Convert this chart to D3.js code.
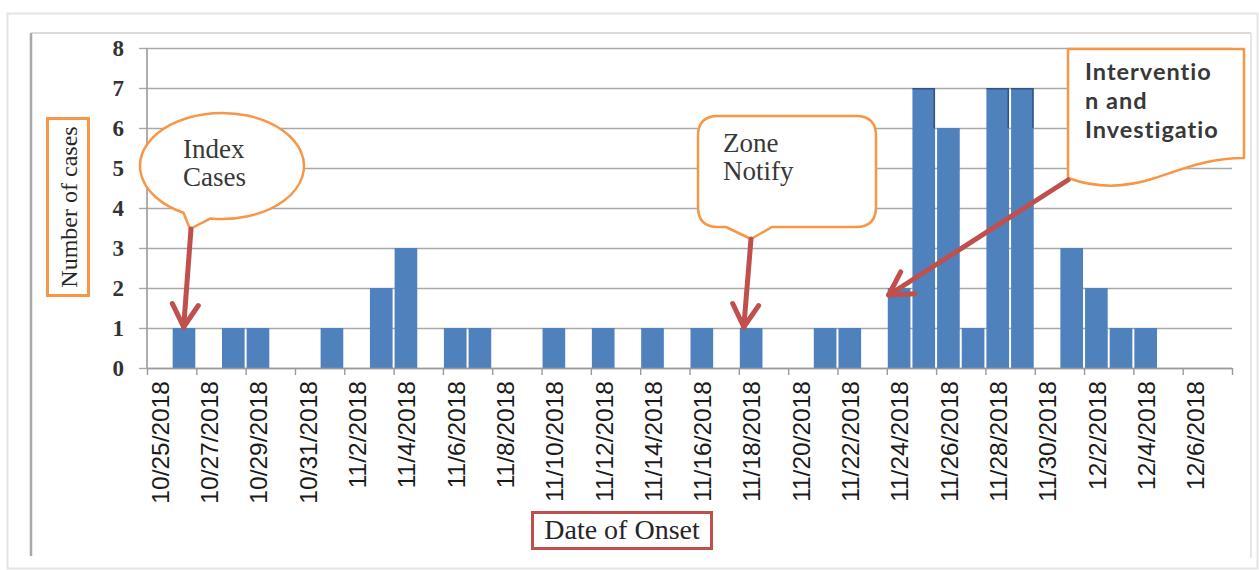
<!DOCTYPE html>
<html>
<head>
<meta charset="utf-8">
<script src="https://cdn.jsdelivr.net/npm/d3@7"></script>
<style>
  body { margin: 0; background: #fff; }
  svg { display: block; }
</style>
</head>
<body>
<svg id="chart" width="1259" height="570"></svg>
<script>
// Daily case counts by date of onset (days without cases are left empty)
const onsetDates = [
  "10/26/2018", "10/28/2018", "10/29/2018", "11/1/2018", "11/3/2018", "11/4/2018",
  "11/6/2018", "11/7/2018", "11/10/2018", "11/12/2018", "11/14/2018", "11/16/2018",
  "11/18/2018", "11/21/2018", "11/22/2018", "11/24/2018", "11/25/2018", "11/26/2018",
  "11/27/2018", "11/28/2018", "11/29/2018", "12/1/2018", "12/2/2018", "12/3/2018",
  "12/4/2018"
];
const caseCounts = [1, 1, 1, 1, 2, 3, 1, 1, 1, 1, 1, 1, 1, 1, 1, 2, 7, 6, 1, 7, 7, 3, 2, 1, 1];

// Axis ticks
const yTicks = [0, 1, 2, 3, 4, 5, 6, 7, 8];
const dateLabels = [
  "10/25/2018", "10/27/2018", "10/29/2018", "10/31/2018", "11/2/2018", "11/4/2018",
  "11/6/2018", "11/8/2018", "11/10/2018", "11/12/2018", "11/14/2018", "11/16/2018",
  "11/18/2018", "11/20/2018", "11/22/2018", "11/24/2018", "11/26/2018", "11/28/2018",
  "11/30/2018", "12/2/2018", "12/4/2018", "12/6/2018"
];
const axisEnd = "12/8/2018";

// Titles and callout texts
const yTitle = "Number of cases";
const xTitle = "Date of Onset";
const noteIndex = ["Index", "Cases"];
const noteZone = ["Zone", "Notify"];
const noteIntervention = ["Interventio", "n and", "Investigatio"];

const parse = d3.utcParse("%m/%d/%Y");
const DAY = 24 * 3600 * 1000;

const svg = d3.select("#chart");
const W = 1259, H = 570;
const plot = { left: 147, right: 1232, top: 48, bottom: 368 };

const BLUE = "#4f81bd", RED = "#c0504d", ORANGE = "#f79646";
const GRID = "#a9a9a9";

// Page frame around the figure
svg.append("rect").attr("x", 0).attr("y", 0).attr("width", W).attr("height", H).attr("fill", "#fff");
svg.append("rect").attr("x", 7.5).attr("y", 13.5).attr("width", 1250).attr("height", 555)
  .attr("fill", "none").attr("stroke", "#e4e4e4").attr("stroke-width", 2);
svg.append("line").attr("x1", 31).attr("x2", 1251).attr("y1", 33).attr("y2", 33)
  .attr("stroke", "#cfcfcf").attr("stroke-width", 1.5);
svg.append("line").attr("x1", 31).attr("x2", 31).attr("y1", 33).attr("y2", 556)
  .attr("stroke", "#a8a8a8").attr("stroke-width", 2.5);
svg.append("line").attr("x1", 1251).attr("x2", 1251).attr("y1", 33).attr("y2", 558)
  .attr("stroke", "#dedede").attr("stroke-width", 1.5);

// Scales
const x = d3.scaleUtc()
  .domain([parse(dateLabels[0]), parse(axisEnd)])
  .range([plot.left, plot.right]);
const y = d3.scaleLinear()
  .domain([0, 8])
  .range([plot.bottom, plot.top]);

// Horizontal gridlines with short outer ticks on the left
const yAxis = d3.axisLeft(y)
  .tickValues(yTicks)
  .tickSize(-(plot.right - plot.left))
  .tickSizeOuter(0)
  .tickFormat("");
const gy = svg.append("g").attr("transform", `translate(${plot.left},0)`).call(yAxis);
gy.select(".domain").remove();
gy.selectAll(".tick line").attr("stroke", GRID).attr("stroke-width", 1.4);
gy.selectAll(".tick").append("line")
  .attr("x1", -8).attr("x2", 0).attr("stroke", GRID).attr("stroke-width", 1.4);
gy.append("line").attr("x1", 0).attr("x2", 0)
  .attr("y1", y(8)).attr("y2", y(0)).attr("stroke", "#9a9a9a").attr("stroke-width", 1.6);

// Y tick numbers
svg.append("g").selectAll("text")
  .data(yTicks)
  .join("text")
  .attr("x", 124)
  .attr("y", d => y(d))
  .attr("dy", "0.34em")
  .attr("text-anchor", "end")
  .attr("font-family", "'Liberation Serif', 'Times New Roman', serif")
  .attr("font-weight", "bold")
  .attr("font-size", 23)
  .attr("fill", "#333")
  .text(d => d);

// Bars: one per onset day
const bars = onsetDates.map((d, i) => ({ date: parse(d), count: caseCounts[i] }));
const peak = d3.max(caseCounts);
const barX = d => x(d.date) + 1;
const barW = d => x(new Date(+d.date + DAY)) - x(d.date) - 2;
svg.append("g").selectAll("rect")
  .data(bars)
  .join("rect")
  .attr("x", barX)
  .attr("width", barW)
  .attr("y", d => y(d.count))
  .attr("height", d => y(0) - y(d.count))
  .attr("fill", BLUE);

// Darker rim along the top and right edge of the peak-day bars
svg.append("g").selectAll("path")
  .data(bars.filter(d => d.count === peak))
  .join("path")
  .attr("d", d => `M${barX(d)},${y(d.count) + 0.8} H${barX(d) + barW(d) - 0.8} V${y(d.count) + 40}`)
  .attr("fill", "none")
  .attr("stroke", "#1d3657")
  .attr("stroke-opacity", 0.6)
  .attr("stroke-width", 1.5);

// Date axis: tick marks at every second day boundary
const boundaryTicks = dateLabels.map(parse).concat([parse(axisEnd)]);
const xAxis = d3.axisBottom(x)
  .tickValues(boundaryTicks)
  .tickSize(7)
  .tickSizeOuter(0)
  .tickFormat("");
const gx = svg.append("g").attr("transform", `translate(0,${plot.bottom})`).call(xAxis);
gx.select(".domain").attr("stroke", "#9a9a9a").attr("stroke-width", 1.6);
gx.selectAll(".tick line").attr("stroke", "#9a9a9a").attr("stroke-width", 1.4);

// Date labels centred on their day, reading upwards
const labelAxis = d3.axisBottom(x)
  .tickValues(dateLabels.map(s => new Date(+parse(s) + DAY / 2)))
  .tickSize(0)
  .tickFormat((d, i) => dateLabels[i]);
const gl = svg.append("g").attr("transform", `translate(0,${plot.bottom})`).call(labelAxis);
gl.select(".domain").remove();
gl.selectAll(".tick text")
  .attr("transform", "rotate(-90)")
  .attr("x", -13)
  .attr("y", 0)
  .attr("dy", "0.36em")
  .attr("text-anchor", "end")
  .attr("font-family", "'Liberation Sans', Arial, sans-serif")
  .attr("font-size", 24.5)
  .attr("fill", "#1a1a1a");

// Axis titles in framed boxes
svg.append("rect").attr("x", 47.5).attr("y", 118.5).attr("width", 41).attr("height", 177)
  .attr("fill", "#fff").attr("stroke", ORANGE).attr("stroke-width", 3);
svg.append("text")
  .attr("transform", "translate(69,207) rotate(-90)")
  .attr("text-anchor", "middle")
  .attr("dy", "0.33em")
  .attr("font-family", "'Liberation Serif', 'Times New Roman', serif")
  .attr("font-size", 24)
  .attr("fill", "#262626")
  .text(yTitle);

svg.append("rect").attr("x", 532.5).attr("y", 512.5).attr("width", 179).attr("height", 36)
  .attr("fill", "#fff").attr("stroke", RED).attr("stroke-width", 3);
svg.append("text")
  .attr("x", 622).attr("y", 539)
  .attr("text-anchor", "middle")
  .attr("font-family", "'Liberation Serif', 'Times New Roman', serif")
  .attr("font-size", 28)
  .attr("fill", "#262626")
  .text(xTitle);

// Arrow helper: shaft plus two wings at the tip
function arrow(x1, y1, x2, y2) {
  const g = svg.append("g").attr("stroke", RED).attr("stroke-width", 5)
    .attr("stroke-linecap", "round").attr("fill", "none");
  g.append("line").attr("x1", x1).attr("y1", y1).attr("x2", x2).attr("y2", y2);
  const ang = Math.atan2(y1 - y2, x1 - x2);
  const len = 26, spread = Math.PI / 6;
  [ang - spread, ang + spread].forEach(a => {
    g.append("line").attr("x1", x2).attr("y1", y2)
      .attr("x2", x2 + len * Math.cos(a)).attr("y2", y2 + len * Math.sin(a));
  });
}

const calloutText = (lines, x0, y0, step, font, size, weight, spacing) => {
  const t = svg.append("text")
    .attr("font-family", font).attr("font-size", size).attr("font-weight", weight)
    .attr("letter-spacing", spacing || 0)
    .attr("fill", "#383838");
  lines.forEach((s, i) => t.append("tspan").attr("x", x0).attr("y", y0 + i * step).text(s));
};

// "Index Cases" oval callout
{
  const cx = 222, cy = 166, rx = 82, ry = 53;
  const p = a => [cx + rx * Math.cos(a), cy + ry * Math.sin(a)];
  const b1 = p(98 * Math.PI / 180), b2 = p(118 * Math.PI / 180);
  const tip = [190, 229];
  svg.append("path")
    .attr("d", `M${b1[0]},${b1[1]} A${rx},${ry} 0 1 0 ${b2[0]},${b2[1]} L${tip[0]},${tip[1]} Z`)
    .attr("fill", "#fff").attr("stroke", ORANGE).attr("stroke-width", 2.5).attr("stroke-linejoin", "round");
  calloutText(noteIndex, 183, 158, 28, "'Liberation Serif', 'Times New Roman', serif", 27, "normal");
  arrow(tip[0] + 1, tip[1], x(parse("10/26/2018")) + 12, y(1) - 1);
}

// "Zone Notify" rounded callout
{
  const x0 = 698, x1 = 876, y0 = 116, y1 = 227, r = 20;
  const tip = [751, 239];
  const d = `M${x0 + r},${y0} H${x1 - r} Q${x1},${y0} ${x1},${y0 + r} V${y1 - r} Q${x1},${y1} ${x1 - r},${y1}
    H772 L${tip[0]},${tip[1]} L726,${y1} H${x0 + r} Q${x0},${y1} ${x0},${y1 - r} V${y0 + r} Q${x0},${y0} ${x0 + r},${y0} Z`;
  svg.append("path").attr("d", d)
    .attr("fill", "#fff").attr("stroke", ORANGE).attr("stroke-width", 2.5).attr("stroke-linejoin", "round");
  calloutText(noteZone, 723, 152, 28, "'Liberation Serif', 'Times New Roman', serif", 27, "normal");
  arrow(tip[0], tip[1], x(parse("11/18/2018")) + 5, y(1) - 1);
}

// "Intervention and Investigation" wavy-bottom callout
{
  const d = `M1068,49 H1244 V158 C1210,158 1185,168 1155,178 C1125,188 1095,188 1068,178 Z`;
  svg.append("path").attr("d", d)
    .attr("fill", "#fff").attr("stroke", ORANGE).attr("stroke-width", 2.5).attr("stroke-linejoin", "round");
  calloutText(noteIntervention, 1085, 80, 29, "Lato, sans-serif", 23.5, 700, 1);
  arrow(1068, 180, x(parse("11/24/2018")) + 2, y(2) + 7);
}
</script>
</body>
</html>
